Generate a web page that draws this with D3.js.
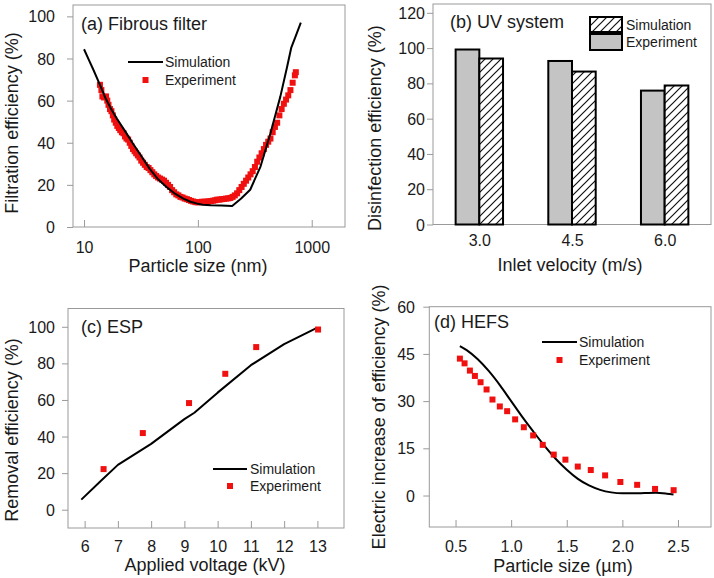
<!DOCTYPE html>
<html>
<head>
<meta charset="utf-8">
<script src="https://cdn.jsdelivr.net/npm/d3@7"></script>
<style>
  html, body { margin: 0; padding: 0; background: #fff; }
  svg { display: block; font-family: "Liberation Sans", Arial, Helvetica, sans-serif; }
</style>
</head>
<body>
<svg id="chart" width="714" height="578"></svg>
<script>
// ---------------- DATA ----------------
// (a) Fibrous filter
const aSimSize = [10, 11.1, 12, 13.8, 15.5, 17.5, 19.4, 23, 26.6, 32, 37.9, 45, 53, 63, 74.5, 86, 97.4, 110, 130, 160, 200, 240, 288, 355, 434, 530, 608, 660, 719, 802];
const aSimEff  = [84.4, 79, 75, 67.5, 61, 55.5, 51.5, 45.4, 40, 33.5, 27.5, 22.5, 19.0, 15.8, 13.5, 12, 11.2, 10.6, 10.3, 10.2, 10.0, 13.5, 17.7, 28.7, 44.5, 61.9, 76.1, 85, 90.3, 97];
const aExpSize = [13.8, 14.2, 14.5, 15.0, 15.6, 16.0, 16.4, 16.9, 17.4, 17.9, 18.4, 19.0, 19.6, 20.2, 20.8, 21.5, 22.2, 22.9, 23.6, 24.4, 25.2, 26.0, 26.9, 27.8, 28.7, 29.7, 30.7, 31.8, 33.0, 34.2, 35.5, 36.9, 38.3, 39.8, 41.4, 43.0, 44.7, 46.5, 48.4, 50.4, 52.5, 54.7, 57.0, 59.4, 61.9, 64.6, 67.4, 70.3, 73.4, 76.6, 80.0, 83.5, 87.2, 91.1, 95.2, 99.5, 104, 109, 114, 119, 124, 130, 136, 142, 148, 155, 162, 169, 177, 185, 193, 202, 211, 221, 231, 242, 253, 265, 277, 290, 303, 317, 332, 347, 363, 380, 397, 415, 434, 454, 475, 497, 520, 544, 569, 595, 622, 650, 680, 711, 725];
const aExpEff  = [67.5, 65, 62, 61.5, 62, 60, 58, 56, 55, 53, 51, 49.5, 48, 47, 46, 45, 44.5, 43, 42, 41.5, 40, 38.5, 37, 36, 35, 34, 33, 31.5, 30.5, 29.5, 28.5, 28, 27, 26, 25, 24.2, 23.5, 23, 22.5, 22, 21, 20, 19, 17.5, 16.5, 15.5, 15, 14.3, 14, 13.5, 13.2, 12.8, 12.4, 12.1, 11.8, 11.7, 11.8, 12, 12, 12, 12.2, 12.3, 12.5, 12.7, 13, 13, 13.2, 13.3, 13.5, 13.6, 13.8, 14.3, 15, 16, 17.5, 19, 20.5, 22, 23.5, 25, 26.5, 28.5, 31, 33, 35, 37, 39, 40.5, 42, 45, 47.5, 49.5, 53, 56, 58.5, 60.5, 62.5, 65, 68.5, 72, 73.5];
const aXTicks = [10, 100, 1000];
const aYTicks = [0, 20, 40, 60, 80, 100];

// (b) UV system
const bVelocity   = ["3.0", "4.5", "6.0"];
const bExperiment = [99.2, 92.7, 75.9];
const bSimulation = [94.1, 86.7, 78.8];
const bYTicks = [0, 20, 40, 60, 80, 100, 120];

// (c) ESP
const cSimVolt = [5.9, 6.5, 7.0, 8.0, 9.0, 9.3, 10.0, 11.0, 12.0, 13.0];
const cSimEff  = [5.5, 16, 24.5, 36, 49.5, 53, 64, 79, 90.5, 99.5];
const cExpVolt = [6.57, 7.75, 9.14, 10.23, 11.16, 13.02];
const cExpEff  = [22.2, 41.9, 58.3, 74.3, 88.9, 98.5];
const cXTicks = [6, 7, 8, 9, 10, 11, 12, 13];
const cYTicks = [0, 20, 40, 60, 80, 100];

// (d) HEFS
const dSimSize = [0.539, 0.6, 0.7, 0.8, 0.9, 1.0, 1.1, 1.2, 1.3, 1.4, 1.5, 1.6, 1.7, 1.8, 1.9, 2.0, 2.1, 2.2, 2.3, 2.4, 2.46];
const dSimInc  = [47.5, 46.2, 43.3, 39.5, 35.0, 30.0, 25.0, 20.3, 15.8, 11.7, 8.2, 5.3, 3.2, 1.8, 1.0, 0.7, 0.7, 0.8, 0.9, 0.6, 0.3];
const dExpSize = [0.539, 0.581, 0.629, 0.674, 0.725, 0.779, 0.832, 0.898, 0.964, 1.036, 1.114, 1.198, 1.284, 1.383, 1.488, 1.599, 1.716, 1.845, 1.982, 2.133, 2.294, 2.461];
const dExpInc  = [43.5, 42.0, 39.7, 38.0, 36.0, 33.7, 30.5, 28.3, 26.8, 24.2, 21.7, 19.1, 16.1, 13.0, 11.4, 9.2, 8.1, 6.4, 4.3, 3.4, 2.1, 1.7];
const dXTicks = [0.5, 1.0, 1.5, 2.0, 2.5];
const dYTicks = [0, 15, 30, 45, 60];

// ---------------- DRAWING ----------------
const svg = d3.select("#chart");
const TXT = "#1a1a1a", FRAME = "#9a9a9a", RED = "#f01010";

const defs = svg.append("defs");
const pat = defs.append("pattern").attr("id", "hatch")
  .attr("patternUnits", "userSpaceOnUse").attr("width", 8).attr("height", 8);
pat.append("rect").attr("width", 8).attr("height", 8).attr("fill", "#fff");
pat.append("path").attr("d", "M-2,2 L2,-2 M0,8 L8,0 M6,10 L10,6")
  .attr("stroke", "#111").attr("stroke-width", 1.2);

function frame(x, y) {
  const [x0, x1] = x.range(), [y0, y1] = y.range();
  svg.append("rect").attr("x", x0).attr("y", y1).attr("width", x1 - x0).attr("height", y0 - y1)
    .attr("fill", "none").attr("stroke", FRAME).attr("stroke-width", 1);
}
function yAxis(y, xFrame, ticks, labelRight, fmt) {
  const g = svg.append("g").attr("transform", `translate(${xFrame},0)`)
    .call(d3.axisLeft(y).tickValues(ticks).tickSize(6).tickFormat(fmt || d3.format("d")));
  g.select(".domain").remove();
  g.selectAll(".tick line").attr("stroke", FRAME);
  g.selectAll(".tick text").attr("x", labelRight - xFrame).attr("dy", "0.35em")
    .attr("fill", TXT).style("font-size", "16px").attr("font-family", null);
}
function xAxis(x, yFrame, ticks, labelY, fmt, tick) {
  const g = svg.append("g").attr("transform", `translate(0,${yFrame})`)
    .call(d3.axisBottom(x).tickValues(ticks).tickSize(tick === undefined ? -7 : tick).tickFormat(fmt));
  g.select(".domain").remove();
  g.selectAll(".tick line").attr("stroke", FRAME);
  g.selectAll(".tick text").attr("y", labelY - yFrame).attr("dy", "0.35em")
    .attr("fill", TXT).style("font-size", "16px").attr("font-family", null);
}
function text(x, y, s, size, anchor, rot) {
  const t = svg.append("text").attr("fill", TXT).style("font-size", size + "px")
    .attr("text-anchor", anchor || "middle").attr("dy", "0.35em").text(s);
  if (rot) t.attr("transform", `translate(${x},${y}) rotate(-90)`);
  else t.attr("x", x).attr("y", y);
  return t;
}
function line(x, y, xs, ys, curve) {
  svg.append("path").datum(xs.map((v, i) => [v, ys[i]]))
    .attr("fill", "none").attr("stroke", "#000").attr("stroke-width", 2)
    .attr("stroke-linejoin", "round")
    .attr("d", d3.line().x(d => x(d[0])).y(d => y(d[1])).curve(curve || d3.curveLinear));
}
function squares(x, y, xs, ys, s) {
  svg.append("g").selectAll("rect").data(xs.map((v, i) => [v, ys[i]])).join("rect")
    .attr("x", d => x(d[0]) - s / 2).attr("y", d => y(d[1]) - s / 2)
    .attr("width", s).attr("height", s).attr("fill", RED);
}
function lineLegend(lx0, lx1, ly1, ly2, tx, ms) {
  svg.append("line").attr("x1", lx0).attr("x2", lx1).attr("y1", ly1).attr("y2", ly1)
    .attr("stroke", "#000").attr("stroke-width", 2);
  svg.append("rect").attr("x", (lx0 + lx1) / 2 - ms / 2).attr("y", ly2 - ms / 2)
    .attr("width", ms).attr("height", ms).attr("fill", RED);
  text(tx, ly1, "Simulation", 14, "start");
  text(tx, ly2, "Experiment", 14, "start");
}

// ----- (a) -----
{
  const x = d3.scaleLog().domain([8.0, 1960]).range([73, 345]);
  const y = d3.scaleLinear().domain([0, 105.4]).range([227, 5]);
  frame(x, y);
  yAxis(y, 73, aYTicks, 55);
  xAxis(x, 227, aXTicks, 247, d3.format("d"));
  squares(x, y, aExpSize, aExpEff, 6);
  line(x, y, aSimSize, aSimEff);
  text(81, 24, "(a) Fibrous filter", 18, "start");
  lineLegend(128, 163, 62, 80, 165, 6);
  text(198, 266, "Particle size (nm)", 18);
  text(12, 123, "Filtration efficiency (%)", 18, "middle", true);
}

// ----- (b) -----
{
  const x = d3.scalePoint().domain(bVelocity).range([433, 711]).padding(0.5);
  const y = d3.scaleLinear().domain([0, 125]).range([224.5, 4]);
  frame(x, y);
  yAxis(y, 433, bYTicks, 425);
  xAxis(x, 224.5, bVelocity, 240, d => d, 0);
  const bw = 23.7;
  svg.append("g").selectAll("rect").data(bVelocity).join("rect")
    .attr("x", d => x(d) - bw).attr("width", bw)
    .attr("y", (d, i) => y(bExperiment[i])).attr("height", (d, i) => y(0) - y(bExperiment[i]))
    .attr("fill", "#c4c4c4").attr("stroke", "#000").attr("stroke-width", 2);
  svg.append("g").selectAll("rect").data(bVelocity).join("rect")
    .attr("x", d => x(d)).attr("width", bw)
    .attr("y", (d, i) => y(bSimulation[i])).attr("height", (d, i) => y(0) - y(bSimulation[i]))
    .attr("fill", "url(#hatch)").attr("stroke", "#000").attr("stroke-width", 2);
  text(450, 22, "(b) UV system", 18, "start");
  svg.append("rect").attr("x", 590).attr("y", 17).attr("width", 32).attr("height", 15)
    .attr("fill", "url(#hatch)").attr("stroke", "#000").attr("stroke-width", 2);
  svg.append("rect").attr("x", 590).attr("y", 34).attr("width", 32).attr("height", 16)
    .attr("fill", "#c4c4c4").attr("stroke", "#000").attr("stroke-width", 2);
  text(626, 25, "Simulation", 14, "start");
  text(626, 42, "Experiment", 14, "start");
  text(570, 265, "Inlet velocity (m/s)", 18);
  text(375, 128, "Disinfection efficiency (%)", 18, "middle", true);
}

// ----- (c) -----
{
  const x = d3.scaleLinear().domain([5.5, 13.8]).range([68, 344]);
  const y = d3.scaleLinear().domain([-10, 110]).range([528, 308.5]);
  frame(x, y);
  yAxis(y, 68, cYTicks, 55);
  xAxis(x, 528, cXTicks, 546, d3.format("d"));
  line(x, y, cSimVolt, cSimEff);
  squares(x, y, cExpVolt, cExpEff, 6);
  text(81, 327, "(c) ESP", 18, "start");
  lineLegend(213, 247, 469, 486, 250, 6);
  text(205, 565, "Applied voltage (kV)", 18);
  text(12, 430, "Removal efficiency (%)", 18, "middle", true);
}

// ----- (d) -----
{
  const x = d3.scaleLinear().domain([0.264, 2.797]).range([429.3, 711]);
  const y = d3.scaleLinear().domain([-10, 60]).range([527, 306.7]);
  frame(x, y);
  yAxis(y, 429.3, dYTicks, 415);
  xAxis(x, 527, dXTicks, 546, d3.format(".1f"));
  line(x, y, dSimSize, dSimInc, d3.curveMonotoneX);
  squares(x, y, dExpSize, dExpInc, 6);
  text(434, 322, "(d) HEFS", 18, "start");
  lineLegend(542, 577, 342, 360, 579, 6);
  text(563, 566, "Particle size (µm)", 18);
  text(379, 417, "Electric increase of efficiency (%)", 18, "middle", true);
}
</script>
</body>
</html>
